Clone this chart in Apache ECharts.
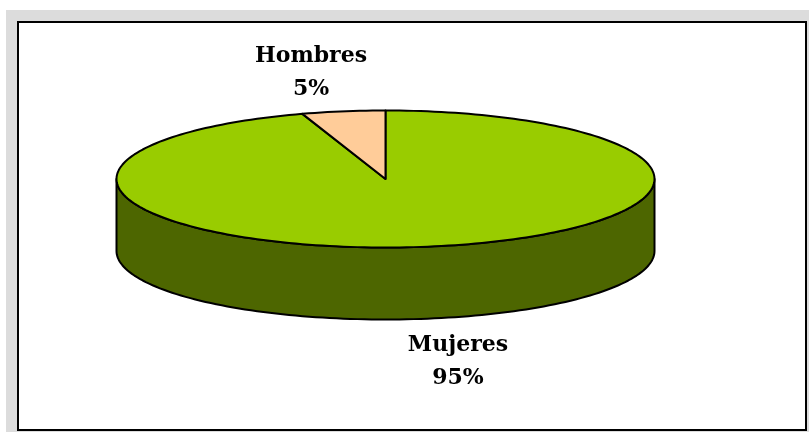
<!DOCTYPE html>
<html>
<head>
<meta charset="utf-8">
<style>
  html, body { margin: 0; padding: 0; background: #fff; }
  #main { width: 809px; height: 432px; }
</style>
<script src="https://cdn.jsdelivr.net/npm/echarts@6/dist/echarts.min.js"></script>
</head>
<body>
<div id="main"></div>
<script>
var categories = ['Mujeres', 'Hombres'];
var values = [95, 5];
var topColors = ['#99cc00', '#ffcc99'];
var sideColors = ['#4d6600', '#806633'];

// pie geometry, the tilted look is just an ellipse + a wall under it
var cx = 385.5, cy = 179, rx = 269, ry = 68.5, depth = 72;
var labelFont = 'bold 22px "DejaVu Serif"';
var labelPos = [[458, 362], [311, 73]];

var total = values.reduce(function (a, b) { return a + b; }, 0);

function pt(frac, dy) {
    var a = frac * Math.PI * 2;
    return [cx + rx * Math.sin(a), cy - ry * Math.cos(a) + (dy || 0)];
}

function arc(from, to, dy) {
    var pts = [];
    var n = Math.max(2, Math.ceil((to - from) * 240));
    for (var i = 0; i <= n; i++) {
        pts.push(pt(from + (to - from) * i / n, dy));
    }
    return pts;
}

function renderSlice(params, api) {
    var i = params.dataIndex;
    var start = 0;
    for (var k = 0; k < i; k++) start += values[k] / total;
    var end = start + api.value(1) / total;
    var line = { stroke: '#000', lineWidth: 2, lineJoin: 'round' };
    var children = [];

    // front wall
    var wallFrom = Math.max(start, 0.25), wallTo = Math.min(end, 0.75);
    if (wallTo > wallFrom) {
        children.push({
            type: 'polygon',
            shape: { points: arc(wallFrom, wallTo, 0).concat(arc(wallFrom, wallTo, depth).reverse()) },
            style: Object.assign({ fill: sideColors[i] }, line)
        });
    }
    // top face
    children.push({
        type: 'polygon',
        shape: { points: [[cx, cy]].concat(arc(start, end, 0)) },
        style: Object.assign({ fill: topColors[i] }, line)
    });
    children.push({
        type: 'text',
        style: {
            text: categories[i] + '\n' + Math.round(api.value(1) / total * 100) + '%',
            x: labelPos[i][0],
            y: labelPos[i][1],
            font: labelFont,
            fill: '#000',
            align: 'center',
            verticalAlign: 'middle',
            lineHeight: 33
        }
    });
    return { type: 'group', children: children };
}

var myChart = echarts.init(document.getElementById('main'));
var option = {
    animation: false,
    backgroundColor: '#fff',
    graphic: [
        { type: 'rect', z: -2, shape: { x: 6, y: 10, width: 803, height: 422 }, style: { fill: '#dcdcdc' } },
        { type: 'rect', z: -1, shape: { x: 18, y: 22, width: 788, height: 408 }, style: { fill: '#fff', stroke: '#000', lineWidth: 2 } }
    ],
    series: [{
        type: 'custom',
        coordinateSystem: 'none',
        renderItem: renderSlice,
        data: values.map(function (v, i) { return [i, v]; })
    }]
};
myChart.setOption(option);
</script>
</body>
</html>
